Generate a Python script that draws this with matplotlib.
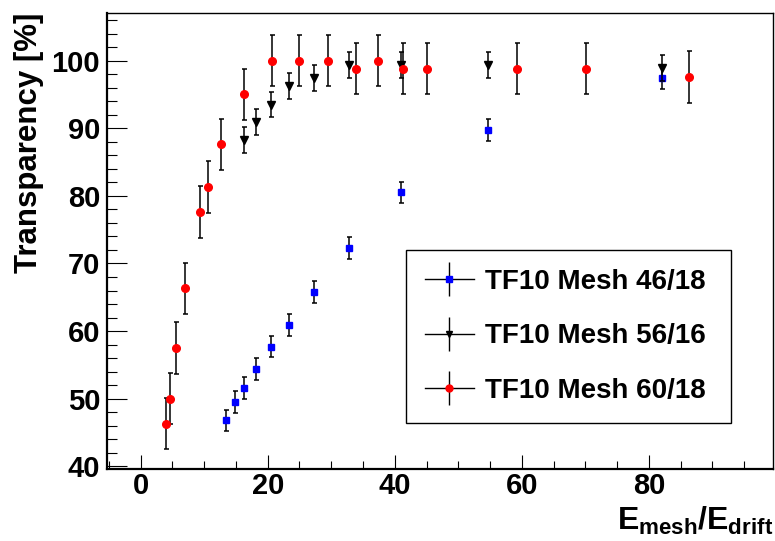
import matplotlib
matplotlib.use("Agg")
import matplotlib.pyplot as plt
from matplotlib.lines import Line2D
from matplotlib.legend_handler import HandlerTuple
from matplotlib.ticker import MultipleLocator

plt.rcParams['font.family'] = ['Liberation Sans', 'DejaVu Sans']
plt.rcParams['font.weight'] = 'bold'
plt.rcParams['mathtext.fontset'] = 'custom'
plt.rcParams['mathtext.rm'] = 'Liberation Sans:bold'
plt.rcParams['mathtext.it'] = 'Liberation Sans:bold'
plt.rcParams['mathtext.bf'] = 'Liberation Sans:bold'

# ---- data ----
labels = ["TF10 Mesh 46/18", "TF10 Mesh 56/16", "TF10 Mesh 60/18"]

x_4618 = [13.5, 14.85, 16.3, 18.1, 20.5, 23.4, 27.3, 32.8, 41.0, 54.7, 82.1]
y_4618 = [46.8, 49.5, 51.6, 54.4, 57.7, 60.9, 65.8, 72.3, 80.5, 89.7, 97.4]
e_4618 = [1.6] * len(x_4618)

x_5616 = [16.3, 18.1, 20.5, 23.4, 27.3, 32.8, 41.0, 54.7, 82.1]
y_5616 = [88.3, 90.9, 93.5, 96.2, 97.4, 99.4, 99.4, 99.4, 98.9]
e_5616 = [1.9] * len(x_5616)

x_6018 = [4.0, 4.6, 5.6, 7.0, 9.34, 10.65, 12.6, 16.2, 20.7, 25.0, 29.5,
          33.9, 37.4, 41.3, 45.0, 59.2, 70.1, 86.4]
y_6018 = [46.3, 50.0, 57.5, 66.3, 77.6, 81.3, 87.6, 95.0, 100.0, 100.0, 100.0,
          98.8, 100.0, 98.8, 98.8, 98.8, 98.8, 97.6]
e_6018 = [3.8] * len(x_6018)

xticks = [0, 20, 40, 60, 80]
yticks = [40, 50, 60, 70, 80, 90, 100]

# ---- figure ----
W, H = 775, 541
fig = plt.figure(figsize=(W / 100, H / 100), dpi=100)
ax = fig.add_axes([107 / W, 1 - 469 / H, (772.7 - 107) / W, (469 - 13.3) / H])

ms = 5
ekw = dict(ecolor='black', elinewidth=1.1, capsize=1.8, capthick=1.1, ls='none')
ax.errorbar(x_4618, y_4618, yerr=e_4618, marker='s', color='#0000ff', ms=ms,
            mec='#0000ff', zorder=3, **ekw)
ax.errorbar(x_5616, y_5616, yerr=e_5616, marker='v', color='black', ms=ms + 1,
            zorder=4, **ekw)
ax.errorbar(x_6018, y_6018, yerr=e_6018, marker='o', color='#ff0000', ms=ms + 0.5,
            mec='#ff0000', zorder=5, **ekw)

ax.set_xlim(-5.3, 99.5)
ax.set_ylim(39.6, 107.0)
ax.set_xticks(xticks)
ax.set_yticks(yticks)
ax.xaxis.set_minor_locator(MultipleLocator(5))
ax.yaxis.set_minor_locator(MultipleLocator(2))
ax.tick_params(axis='both', which='both', direction='in', top=False, right=False,
               width=0.8, labelsize=21)
ax.tick_params(axis='x', which='major', length=10, pad=2)
ax.tick_params(axis='x', which='minor', length=5.5)
ax.tick_params(axis='y', which='major', length=14.5, pad=5)
ax.tick_params(axis='y', which='minor', length=7.5)
for lab in ax.get_xticklabels() + ax.get_yticklabels():
    lab.set_fontweight('bold')

ax.spines['left'].set_linewidth(1.6)
ax.spines['bottom'].set_linewidth(1.6)
ax.spines['top'].set_linewidth(1.0)
ax.spines['right'].set_linewidth(1.0)

fig.text(37 / W, 1 - 13 / H, "Transparency [%]", rotation=90, rotation_mode='anchor',
         ha='right', va='baseline', fontsize=22.5, fontweight='bold')
fig.text(773 / W, 1 - 530 / H, r"$E_{mesh}/E_{drift}$", ha='right', va='baseline',
         fontsize=23)

# ---- legend ----
def handle(color, marker, size):
    cross = Line2D([], [], color='black', lw=1.0, marker='|', markersize=25, mew=1.0)
    mk = Line2D([], [], ls='none', marker=marker, color=color, mec=color, markersize=size)
    return (cross, mk)

handles = [handle('#0000ff', 's', 5), handle('black', 'v', 5), handle('#ff0000', 'o', 5)]
x0 = (406 - 107) / (772.7 - 107)
x1 = (731 - 107) / (772.7 - 107)
ytop = (469 - 250) / (469 - 13.3)
leg = ax.legend(handles, labels, handler_map={tuple: HandlerTuple(ndivide=1)},
                loc='upper left', bbox_to_anchor=(x0, ytop - 0.38, x1 - x0, 0.38),
                mode='expand', fancybox=False, shadow=False, framealpha=1,
                edgecolor='black', prop={'family': 'Liberation Sans', 'weight': 'bold', 'size': 20},
                handlelength=1.75, handletextpad=0.41, borderpad=0.68, labelspacing=1.03,
                borderaxespad=0)
leg.get_frame().set_linewidth(1.0)

fig.savefig("out.png", dpi=100)
